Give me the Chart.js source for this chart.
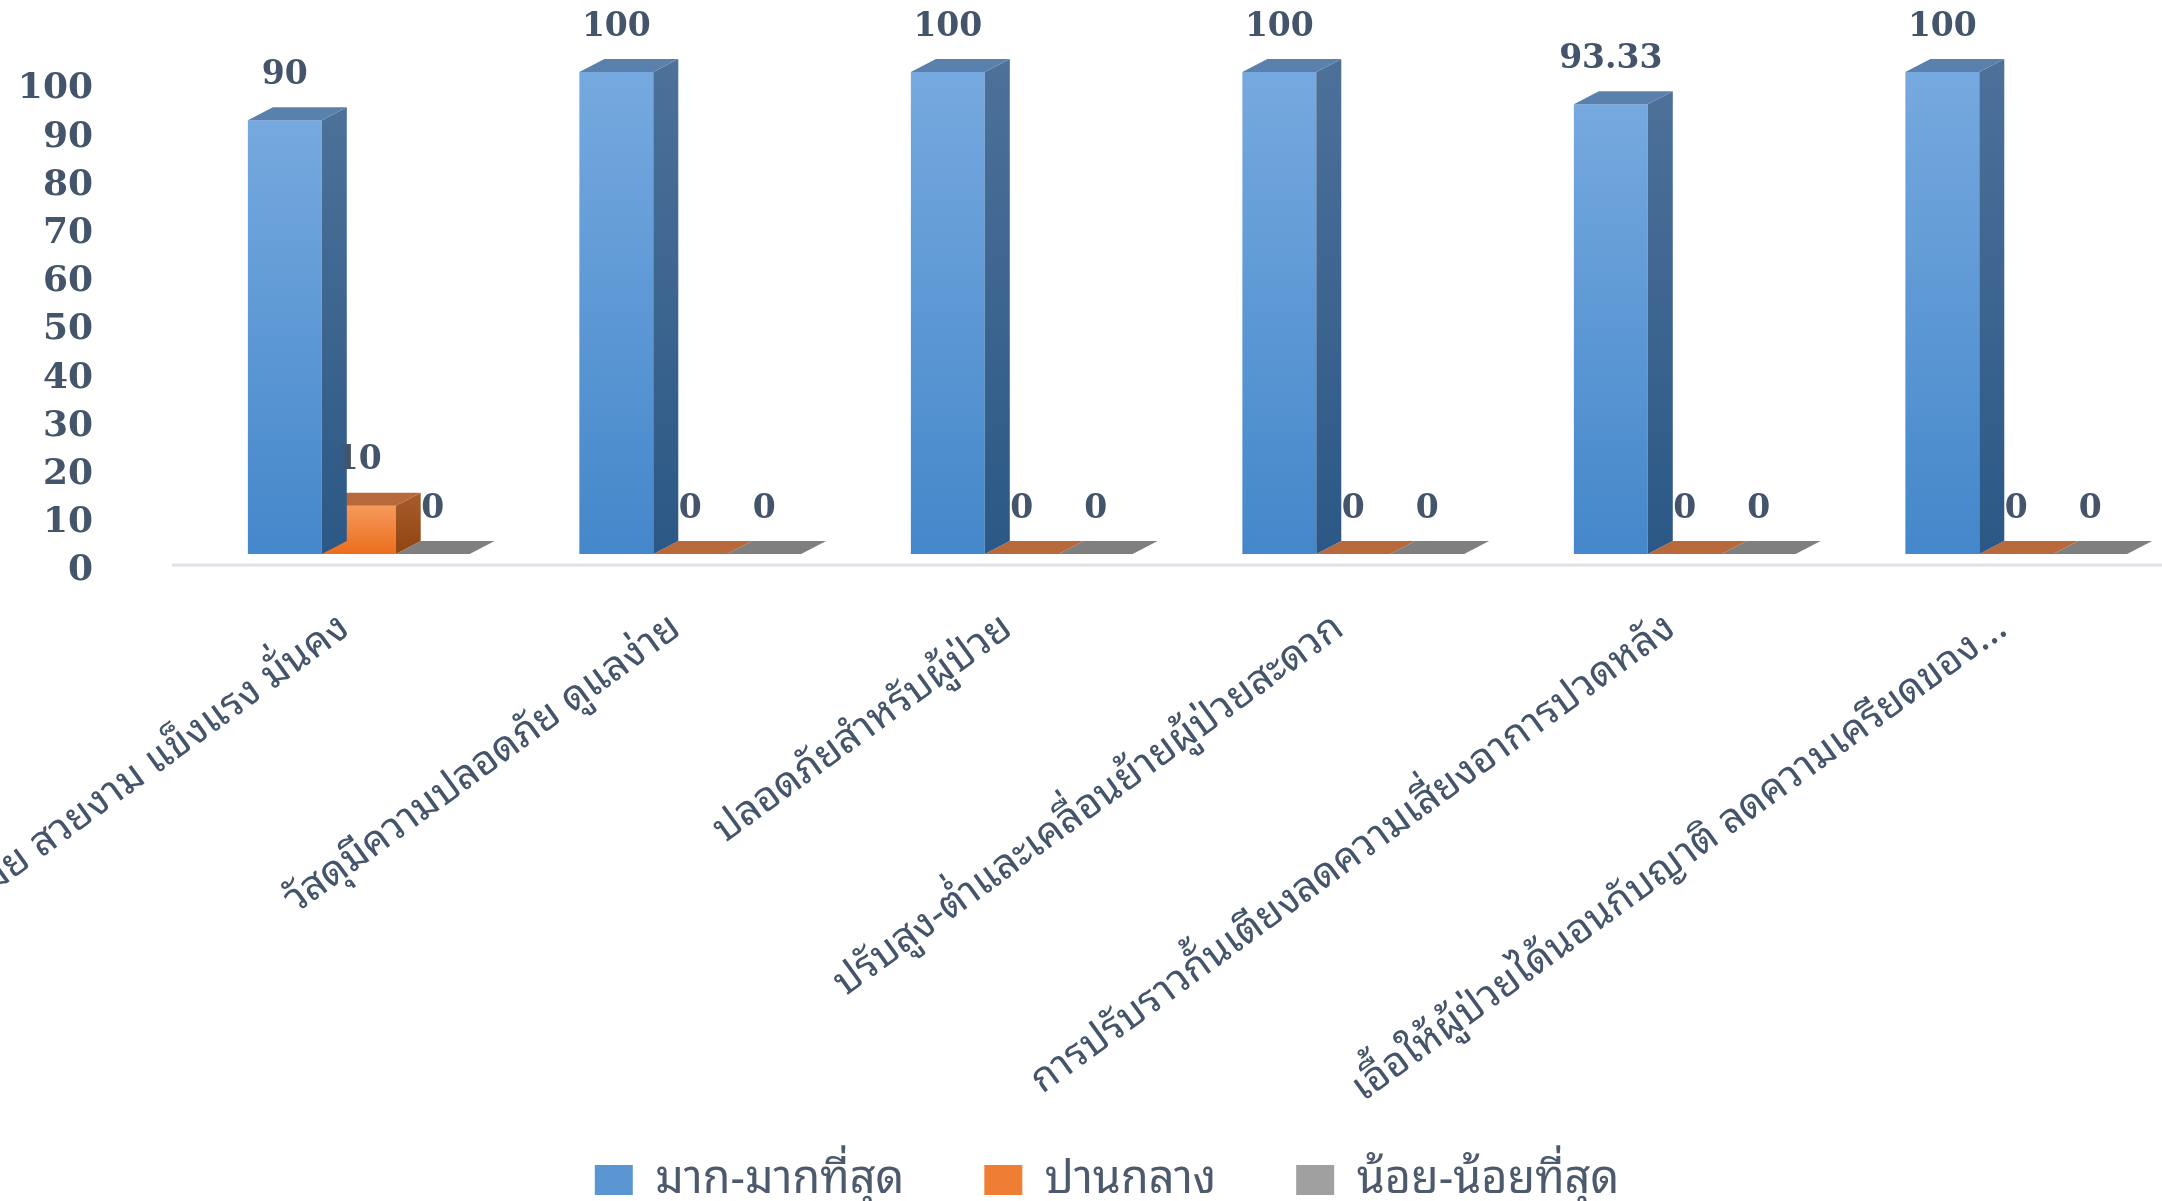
<!DOCTYPE html>
<html>
<head>
<meta charset="utf-8">
<script src="https://cdn.jsdelivr.net/npm/chart.js@4.4.0/dist/chart.umd.min.js"></script>
<style>
  html, body { margin: 0; padding: 0; background: #fff; overflow: hidden; }
  canvas { display: block; }
</style>
</head>
<body>
<canvas id="graf" width="2200" height="1201"></canvas>
<script>
// categories (the first one is cut off at the left edge in the original)
const labels = [
  "ทันสมัย สวยงาม แข็งแรง มั่นคง",
  "วัสดุมีความปลอดภัย ดูแลง่าย",
  "ปลอดภัยสำหรับผู้ป่วย",
  "ปรับสูง-ต่ำและเคลื่อนย้ายผู้ป่วยสะดวก",
  "การปรับราวกั้นเตียงลดความเสี่ยงอาการปวดหลัง",
  "เอื้อให้ผู้ป่วยได้นอนกับญาติ ลดความเครียดของ..."
];
const seriesNames = ["มาก-มากที่สุด", "ปานกลาง", "น้อย-น้อยที่สุด"];
const high = [90, 100, 100, 100, 93.33, 100];
const medium = [10, 0, 0, 0, 0, 0];
const low = [0, 0, 0, 0, 0, 0];
const yMin = 0, yMax = 100, yStep = 10;

const thai = "'Noto Sans Thai Looped', 'Noto Sans Thai', 'Noto Sans', sans-serif";
const txt = "#44546a";

// colours per series: front top/bottom, side top/bottom, top face, legend
const looks = [
  { ft: "#76a9df", fb: "#4487ca", st: "#4d7199", sb: "#2b5886", top: "#5a81ad", leg: "#5b96d3" },
  { ft: "#f5995c", fb: "#ec6e1c", st: "#a85c2c", sb: "#8f4511", top: "#b8693b", leg: "#ef7d34" },
  { ft: "#a9a9a9", fb: "#8c8c8c", st: "#6f6f6f", sb: "#5e5e5e", top: "#7f7f7f", leg: "#a0a0a0" }
];
const DX = 25, DY = 13;

function frontFill(i) {
  return c => {
    const chart = c.chart;
    const y = chart.scales.y;
    if (!chart.chartArea || c.raw == null) return looks[i].fb;
    const t = y.getPixelForValue(c.raw), b = y.getPixelForValue(0);
    if (b - t < 1) return looks[i].fb;
    const g = chart.ctx.createLinearGradient(0, t, 0, b);
    g.addColorStop(0, looks[i].ft);
    g.addColorStop(1, looks[i].fb);
    return g;
  };
}

function noPad(s) {
  s.paddingLeft = 0; s.paddingRight = 0; s.paddingTop = 0; s.paddingBottom = 0;
}

function drawValues(chart) {
  const ctx = chart.ctx;
  ctx.save();
  ctx.fillStyle = txt;
  ctx.font = "bold 33px 'DejaVu Serif'";
  ctx.textAlign = "center";
  ctx.textBaseline = "middle";
  chart.data.datasets.forEach((d, i) => {
    chart.getDatasetMeta(i).data.forEach((bar, j) => {
      ctx.fillText(String(d.data[j]), bar.x, bar.y - 45);
    });
  });
  ctx.restore();
}

const bar3d = {
  id: "bar3d",
  afterLayout(chart) {
    // the legend sits a little right of centre in the original
    chart.legend.left += 16;
    chart.legend.right += 16;
  },
  beforeDatasetsDraw(chart) {
    const ctx = chart.ctx;
    const area = chart.chartArea;
    ctx.save();
    ctx.strokeStyle = "#dde2ea";
    ctx.lineWidth = 3;
    ctx.beginPath();
    ctx.moveTo(172, area.bottom + 11);
    ctx.lineTo(chart.width, area.bottom + 11);
    ctx.stroke();
    ctx.restore();
  },
  afterDatasetDraw(chart, args) {
    const ctx = chart.ctx;
    const lk = looks[args.index];
    ctx.save();
    args.meta.data.forEach(bar => {
      const { x, y, base, width } = bar.getProps(["x", "y", "base", "width"], true);
      const l = x - width / 2, r = x + width / 2;
      if (base - y > 0.5) {
        const g = ctx.createLinearGradient(0, y - DY, 0, base);
        g.addColorStop(0, lk.st);
        g.addColorStop(1, lk.sb);
        ctx.fillStyle = g;
        ctx.beginPath();
        ctx.moveTo(r, y);
        ctx.lineTo(r + DX, y - DY);
        ctx.lineTo(r + DX, base - DY);
        ctx.lineTo(r, base);
        ctx.closePath();
        ctx.fill();
      }
      ctx.fillStyle = lk.top;
      ctx.beginPath();
      ctx.moveTo(l, y);
      ctx.lineTo(l + DX, y - DY);
      ctx.lineTo(r + DX, y - DY);
      ctx.lineTo(r, y);
      ctx.closePath();
      ctx.fill();
    });
    ctx.restore();
    // values go on after the blue bars, so the later bars can hide parts of them
    if (args.index === 0) drawValues(chart);
  }
};

new Chart(document.getElementById("graf"), {
  type: "bar",
  data: {
    labels,
    datasets: [high, medium, low].map((vals, i) => ({
      label: seriesNames[i],
      data: vals,
      backgroundColor: frontFill(i),
      borderWidth: 0,
      categoryPercentage: 0.669,
      barPercentage: 1
    }))
  },
  options: {
    responsive: false,
    animation: false,
    layout: { autoPadding: false, padding: { left: 0, right: 18, top: 72, bottom: -11.5 } },
    scales: {
      x: {
        grid: { display: false },
        border: { display: false },
        ticks: {
          autoSkip: false, minRotation: 36, maxRotation: 36, padding: 42, labelOffset: -14,
          color: txt, font: { family: thai, size: 40.5 }
        },
        afterFit(s) {
          s.height = 523.5;
          noPad(s);
          // long labels run down past the axis box, as in the original
          s._computeLabelArea = () => undefined;
        }
      },
      y: {
        min: yMin, max: yMax,
        grid: { display: false },
        border: { display: false },
        ticks: {
          autoSkip: false, stepSize: yStep, padding: 92, labelOffset: 17,
          color: txt, font: { family: "'DejaVu Serif'", weight: "bold", size: 36 }
        },
        afterFit(s) { s.width = 193; noPad(s); }
      }
    },
    plugins: {
      tooltip: { enabled: false },
      legend: {
        position: "bottom",
        labels: {
          boxWidth: 38, boxHeight: 30, padding: 80,
          color: "#4d5a6e",
          font: { family: thai, size: 45 },
          generateLabels(chart) {
            return chart.data.datasets.map((d, i) => ({
              text: d.label, fillStyle: looks[i].leg, strokeStyle: looks[i].leg,
              lineWidth: 0, hidden: false, datasetIndex: i, fontColor: "#4d5a6e"
            }));
          }
        }
      }
    }
  },
  plugins: [bar3d]
});
</script>
</body>
</html>
